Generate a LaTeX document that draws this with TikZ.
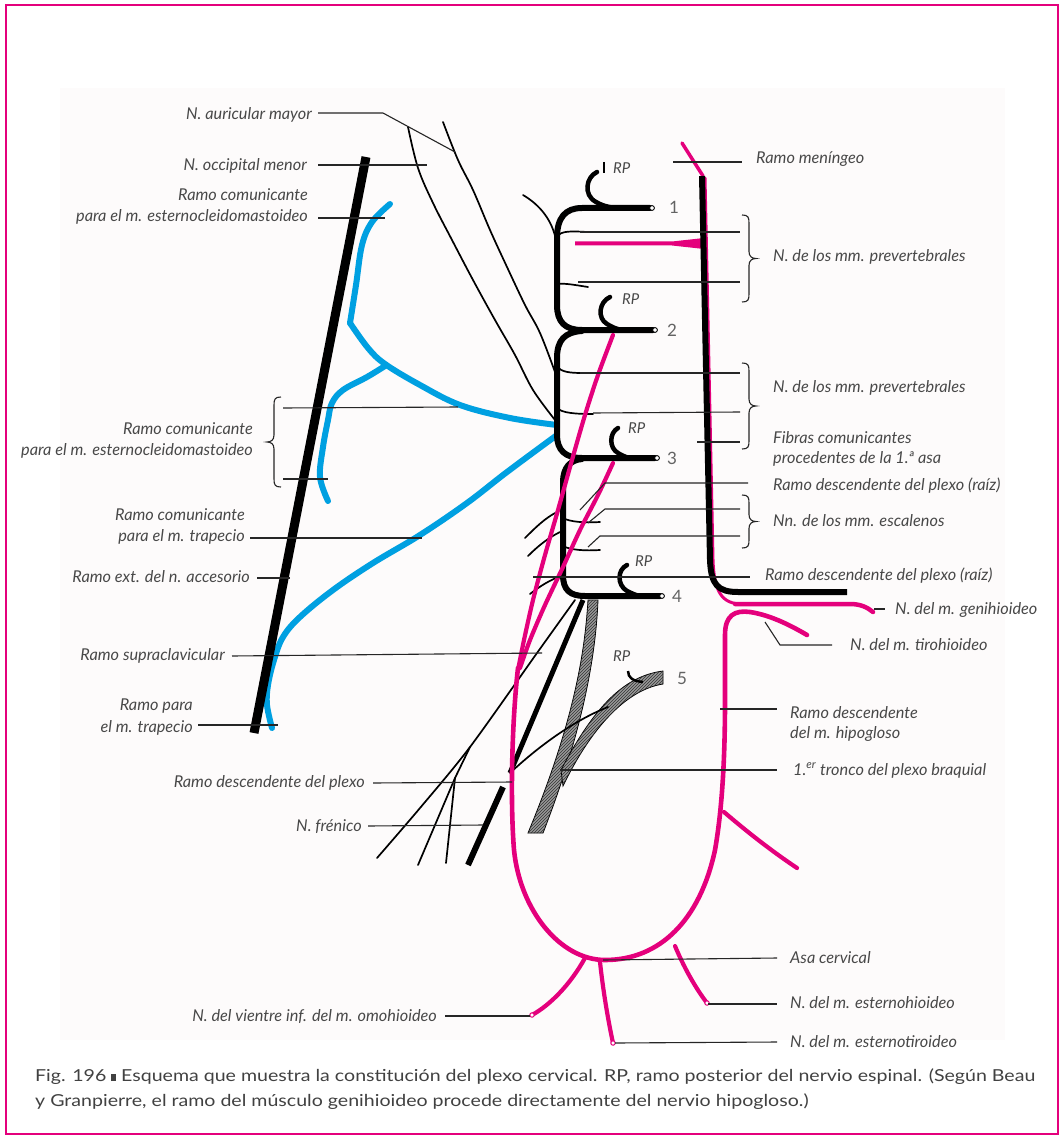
\documentclass[tikz,border=0pt]{standalone}
\usepackage{fontspec}
\usepackage{graphicx}
\setmainfont{Lato}
\usetikzlibrary{patterns}
\definecolor{mag}{RGB}{228,0,124}
\definecolor{nblue}{RGB}{0,160,225}
\definecolor{txt}{RGB}{72,72,72}
\definecolor{bgpaper}{RGB}{253,251,251}
\newcommand{\lblfont}{\fontsize{16.3}{19}\selectfont\itshape}
\newcommand{\numfont}{\fontsize{17}{19}\selectfont}
\newsavebox\capboxA
\newsavebox\capboxB
\newcommand{\capA}{Fig. 196 \rule{4pt}{7pt} Esquema que muestra la constitución del plexo cervical. RP, ramo posterior del nervio espinal. (Según Beau}
\newcommand{\capB}{y Granpierre, el ramo del músculo genihioideo procede directamente del nervio hipogloso.)}
\newcommand{\RBrk}[3]{%
  \pgfmathsetmacro\brkmid{(#2+#3)/2}
  \draw[brk] (#1-7,#2) .. controls (#1-1,#2) and (#1,#2+2) .. (#1,#2+8) -- (#1,\brkmid-7) .. controls (#1,\brkmid-2) and (#1+3,\brkmid) .. (#1+7,\brkmid) .. controls (#1+3,\brkmid) and (#1,\brkmid+2) .. (#1,\brkmid+7) -- (#1,#3-8) .. controls (#1,#3-2) and (#1-1,#3) .. (#1-7,#3);}
\newcommand{\LBrk}[3]{%
  \pgfmathsetmacro\brkmid{(#2+#3)/2}
  \draw[brk] (#1+7,#2) .. controls (#1+1,#2) and (#1,#2+2) .. (#1,#2+8) -- (#1,\brkmid-7) .. controls (#1,\brkmid-2) and (#1-3,\brkmid) .. (#1-7,\brkmid) .. controls (#1-3,\brkmid) and (#1,\brkmid+2) .. (#1,\brkmid+7) -- (#1,#3-8) .. controls (#1,#3-2) and (#1+1,#3) .. (#1+7,#3);}
\begin{document}
\begin{tikzpicture}[x=1pt,y=-1pt,
  lbl/.style={font=\lblfont, text=txt, inner sep=0pt},
  rplbl/.style={font=\fontsize{15}{18}\selectfont\itshape, text=txt, inner sep=0pt, anchor=west},
  numlbl/.style={font=\numfont, text=txt!85, inner sep=0pt, anchor=west},
  leader/.style={draw=black!85, line width=1.1pt},
  brk/.style={draw=black!85, line width=1.1pt},
  pinknerve/.style={draw=mag, line width=4.2pt, line cap=round, line join=round},
  bluenerve/.style={draw=nblue, line width=6pt, line cap=round, line join=round},
  thinnerve/.style={draw=black, line width=1.7pt, line cap=round},
  plex/.style={draw=black, line width=6pt, line cap=round, line join=round},
  hooknerve/.style={draw=black, line width=4.5pt, line cap=round},
  endc/.style={draw=black, fill=white, line width=0.9pt},
  endp/.style={draw=mag, fill=white, line width=1pt},
  hatch/.style={fill=black!40, postaction={pattern=north east lines, pattern color=black!80}, draw=black, line width=0.8pt}
]
\useasboundingbox (0,0) rectangle (1064,1139);
\fill[white] (0,0) rectangle (1064,1139);
\fill[bgpaper] (60,88) rectangle (1005,1040);
\draw[mag, line width=2pt] (6,5) rectangle (1058,1134);

% ---------- hypoglossal pink (under black)
\draw[pinknerve, line width=3.5pt] (682,143) -- (703,176);
\draw[pinknerve, line width=3pt] (705,178) -- (713,560) .. controls (714,592) and (722,604) .. (742,604);
\draw[pinknerve, line width=4.5pt] (735,604) -- (850,604) .. controls (860,604) and (867,607) .. (873,612);
\fill[mag] (575,241.5) -- (672,241.5) -- (704,238) -- (704,249) -- (672,245.5) -- (575,245.5) -- cycle;

% ---------- blue nerves
\draw[bluenerve] plot[smooth, tension=0.6] coordinates {(390,204) (372,222) (362,245) (356,285) (350,323)};
\draw[bluenerve] plot[smooth, tension=0.6] coordinates {(350,323) (368,348) (385,364) (420,385) (460,405) (510,418) (557,425)};
\draw[bluenerve] plot[smooth, tension=0.6] coordinates {(385,366) (367,377) (343,390) (332,403) (328,420) (323,447) (320,477) (328,501)};
\draw[bluenerve] plot[smooth, tension=0.6] coordinates {(557,435) (507,472) (467,503) (420,535) (373,563) (333,590) (300,617) (283,637) (274,660) (268,685) (267,705) (272,728)};

% ---------- accessory nerve trunk
\draw[black, line width=9pt] (366,157) -- (254,733);

% ---------- hypoglossal black
\draw[black, line width=6pt] (702,176) -- (710,560) .. controls (711,585) and (718,592) .. (738,592) -- (847,592);

% ---------- thin nerves (auricular, occipital)
\draw[thinnerve] plot[smooth, tension=0.6] coordinates {(443,122) (458,160) (473,190) (490,230) (507,267) (525,305) (540,333) (555,372)};
\draw[thinnerve] plot[smooth, tension=0.6] coordinates {(408,127) (418,168) (433,203) (452,240) (473,280) (495,320) (515,355) (533,390) (555,420)};
\draw[thinnerve] (523,195) .. controls (540,205) and (552,220) .. (556,240);

% ---------- hatched trunks
\path[hatch] (588,600) .. controls (585,650) and (575,720) .. (528,833) -- (543,833) .. controls (585,725) and (596,650) .. (598,600) -- cycle;
\path[hatch] (663,671) .. controls (625,676) and (595,705) .. (561,770) -- (563,786) .. controls (590,730) and (625,690) .. (663,684) -- cycle;

% ---------- plexus
\draw[plex] (650,208) -- (582,208) .. controls (565,208) and (557,218) .. (557,238) -- (557,305) .. controls (557,322) and (565,330) .. (582,330) -- (653,330);
\draw[plex] (582,331) .. controls (565,332) and (557,340) .. (557,358) -- (557,435) .. controls (557,450) and (565,458) .. (582,458) -- (655,458);
\draw[plex] (582,459) .. controls (570,460) and (563,468) .. (563,482) -- (563,575) .. controls (563,590) and (570,596) .. (585,596) -- (660,596);
\foreach \ex/\ey in {652/208, 655/330, 657/458, 662/596} \draw[endc] (\ex,\ey) circle (2.4);

% RP hooks
\draw[hooknerve] (597,172) .. controls (586,177) and (583,195) .. (596,202) .. controls (601,205) and (607,207) .. (615,208);
\draw[hooknerve] (610,297) .. controls (599,302) and (597,318) .. (607,324) .. controls (612,327) and (616,329) .. (622,330);
\draw[hooknerve] (618,428) .. controls (609,433) and (609,448) .. (618,453) .. controls (621,455) and (625,457) .. (630,458);
\draw[hooknerve] (627,565) .. controls (617,570) and (617,585) .. (627,591) .. controls (631,593) and (635,595) .. (640,596);
\draw[black, line width=2.5pt] (628,671) .. controls (628,678) and (633,681) .. (643,682);
\draw[black, line width=2.5pt] (604,162) -- (604,173);

% twigs
\draw[thinnerve] (557,236) .. controls (562,231) and (570,231) .. (587,232);
\draw[thinnerve] (557,284) .. controls (565,283) and (575,285) .. (588,287);
\draw[thinnerve] (557,367) .. controls (562,372) and (570,373) .. (582,373);
\draw[thinnerve] (557,408) .. controls (562,413) and (575,414) .. (593,414);
\draw[thinnerve] (563,518) .. controls (570,522) and (585,523) .. (600,522);
\draw[thinnerve] (563,546) .. controls (570,550) and (585,551) .. (600,550);
% cut stubs
\draw[thinnerve] (525,538) .. controls (535,528) and (545,518) .. (557,512);
\draw[thinnerve] (528,556) .. controls (538,546) and (548,538) .. (560,532);
\draw[thinnerve] (530,594) .. controls (540,586) and (550,580) .. (563,575);

% fan of descending branches
\draw[thinnerve] plot[smooth, tension=0.5] coordinates {(575,600) (537,653) (470,747) (420,808) (377,858)};
\draw[thinnerve] (470,747) -- (455,778) -- (418,865);
\draw[thinnerve] (455,778) -- (446,863);
\draw[black, line width=5pt] (583,600) -- (510,773);
\draw[thinnerve] (510,773) .. controls (540,745) and (575,720) .. (608,707);
\draw[black, line width=6pt] (503,787) -- (468,865);

% ---------- pink roots and ansa
\draw[pinknerve] plot[smooth, tension=0.5] coordinates {(613,335) (598,375) (585,415) (572,460) (558,510) (545,555) (533,600) (524,640) (518,670)};
\draw[pinknerve] plot[smooth, tension=0.5] coordinates {(613,463) (598,495) (580,530) (563,567) (545,605) (530,640) (520,668)};
\draw[pinknerve, line width=4.6pt] (518,668) .. controls (512,720) and (510,800) .. (514,850) .. controls (520,910) and (560,960) .. (605,960) .. controls (660,960) and (700,920) .. (715,850) .. controls (722,810) and (725,760) .. (725,700) -- (725,635) .. controls (725,615) and (735,610) .. (750,612) .. controls (770,615) and (790,625) .. (807,635);
\draw[pinknerve] (724,812) .. controls (745,830) and (770,850) .. (797,868);
\draw[pinknerve] (585,958) .. controls (570,985) and (550,1005) .. (532,1015);
\draw[pinknerve] (600,962) .. controls (603,990) and (608,1020) .. (613,1043);
\draw[pinknerve] (675,946) .. controls (685,970) and (697,990) .. (707,1003);
\foreach \ex/\ey in {532/1015, 613/1043, 707/1003} \draw[endp] (\ex,\ey) circle (2.2);

% ---------- leaders (left)
\draw[leader] (318,113) -- (383,113) -- (455,152);
\draw[leader] (318,165) -- (427,165);
\draw[leader] (318,218) -- (385,218);
\draw[leader] (283,408) -- (458,407);
\draw[leader] (283,479) -- (328,479);
\draw[leader] (250,538) -- (422,538);
\draw[leader] (257,578) -- (290,578);
\draw[leader] (232,656) -- (542,653);
\draw[leader] (198,725) -- (278,725);
\draw[leader] (373,783) -- (512,782);
\draw[leader] (368,826) -- (483,825);
\draw[leader] (445,1016) -- (530,1016);
% leaders (right)
\draw[leader] (673,162) -- (742,162);
\draw[leader] (580,232) -- (740,232);
\draw[leader] (578,282) -- (740,282);
\draw[leader] (580,373) -- (740,373);
\draw[leader] (593,413) -- (740,412);
\draw[leader] (697,442) -- (740,442);
\draw[leader] (580,510) -- (605,483) -- (748,483);
\draw[leader] (588,523) -- (605,509) -- (740,509);
\draw[leader] (588,547) -- (600,536) -- (740,536);
\draw[leader] (533,577) -- (750,577);
\draw[leader] (874,609) -- (885,609);
\draw[leader] (765,622) -- (780,645) -- (832,645);
\draw[leader] (720,709) -- (777,709);
\draw[leader] (560,770) -- (777,770);
\draw[leader] (603,960) -- (777,958);
\draw[leader] (708,1004) -- (777,1004);
\draw[leader] (615,1043) -- (777,1042);

% brackets
\RBrk{749}{215}{302}
\RBrk{749}{363}{449}
\RBrk{749}{495}{548}
\LBrk{274}{397}{487}

% ---------- labels left
\node[lbl, anchor=base east] (lAur) at (312,120) {N. auricular mayor};
\node[lbl, anchor=base east] (lOcc) at (307,171) {N. occipital menor};
\node[lbl, anchor=base east] (lScmA1) at (308,201) {Ramo comunicante};
\node[lbl, anchor=base east] (lScmA2) at (308,222) {para el m. esternocleidomastoideo};
\node[lbl, anchor=base east] (lScmB1) at (253,434) {Ramo comunicante};
\node[lbl, anchor=base east] (lScmB2) at (253,455) {para el m. esternocleidomastoideo};
\node[lbl, anchor=base east] (lTrapA1) at (245,520) {Ramo comunicante};
\node[lbl, anchor=base east] (lTrapA2) at (245,541) {para el m. trapecio};
\node[lbl, anchor=base east] (lAcc) at (250,582) {Ramo ext. del n. accesorio};
\node[lbl, anchor=base east] (lSupra) at (225,660) {Ramo supraclavicular};
\node[lbl, anchor=base east] (lTrapB1) at (193,710) {Ramo para};
\node[lbl, anchor=base east] (lTrapB2) at (193,732) {el m. trapecio};
\node[lbl, anchor=base east] (lDesc) at (365,787) {Ramo descendente del plexo};
\node[lbl, anchor=base east] (lFren) at (362,831) {N. frénico};
\node[lbl, anchor=base east] (lOmo) at (437,1021) {N. del vientre inf. del m. omohioideo};
% labels right
\node[lbl, anchor=base west] (rMen) at (756,164) {Ramo meníngeo};
\node[lbl, anchor=base west] (rPrev1) at (773,262) {N. de los mm. prevertebrales};
\node[lbl, anchor=base west] (rPrev2) at (773,392) {N. de los mm. prevertebrales};
\node[lbl, anchor=base west] (rFib1) at (773,443) {Fibras comunicantes};
\node[lbl, anchor=base west] (rFib2) at (773,463) {procedentes de la 1.ª asa};
\node[lbl, anchor=base west] (rRaiz1) at (773,490) {Ramo descendente del plexo (raíz)};
\node[lbl, anchor=base west] (rEsc) at (773,526) {Nn. de los mm. escalenos};
\node[lbl, anchor=base west] (rRaiz2) at (765,580) {Ramo descendente del plexo (raíz)};
\node[lbl, anchor=base west] (rGeni) at (895,614) {N. del m. genihioideo};
\node[lbl, anchor=base west] (rTiro) at (850,650) {N. del m. tirohioideo};
\node[lbl, anchor=base west] (rHip1) at (790,718) {Ramo descendente};
\node[lbl, anchor=base west] (rHip2) at (790,738) {del m. hipogloso};
\node[lbl, anchor=base west] (rTron) at (793,775) {1.\textsuperscript{er} tronco del plexo braquial};
\node[lbl, anchor=base west] (rAsa) at (790,963) {Asa cervical};
\node[lbl, anchor=base west] (rEsh) at (790,1008) {N. del m. esternohioideo};
\node[lbl, anchor=base west] (rEst) at (790,1047) {N. del m. esternotiroideo};

% RP and numbers
\node[rplbl] (rp1) at (613,168) {RP};
\node[rplbl] (rp2) at (622,299) {RP};
\node[rplbl] (rp3) at (628,428) {RP};
\node[rplbl] (rp4) at (635,561) {RP};
\node[rplbl] (rp5) at (613,656) {RP};
\node[numlbl] (n1) at (669,207) {1};
\node[numlbl] (n2) at (667,330) {2};
\node[numlbl] (n3) at (667,458) {3};
\node[numlbl] (n4) at (672,596) {4};
\node[numlbl] (n5) at (677,678) {5};

% caption
\node[anchor=base west, inner sep=0pt, text=txt!90!black] (cap1) at (35,1081) {\fontsize{16.5}{20}\selectfont\sbox\capboxA{\capA}\pgfmathsetmacro\capsc{1000/\wd\capboxA}\scalebox{\capsc}[1]{\usebox\capboxA}};
\node[anchor=base west, inner sep=0pt, text=txt!90!black] (cap2) at (35,1106) {\fontsize{16.5}{20}\selectfont\sbox\capboxA{\capA}\sbox\capboxB{\capB}\pgfmathsetmacro\capsc{1000/\wd\capboxA}\scalebox{\capsc}[1]{\usebox\capboxB}};
\end{tikzpicture}
\end{document}
